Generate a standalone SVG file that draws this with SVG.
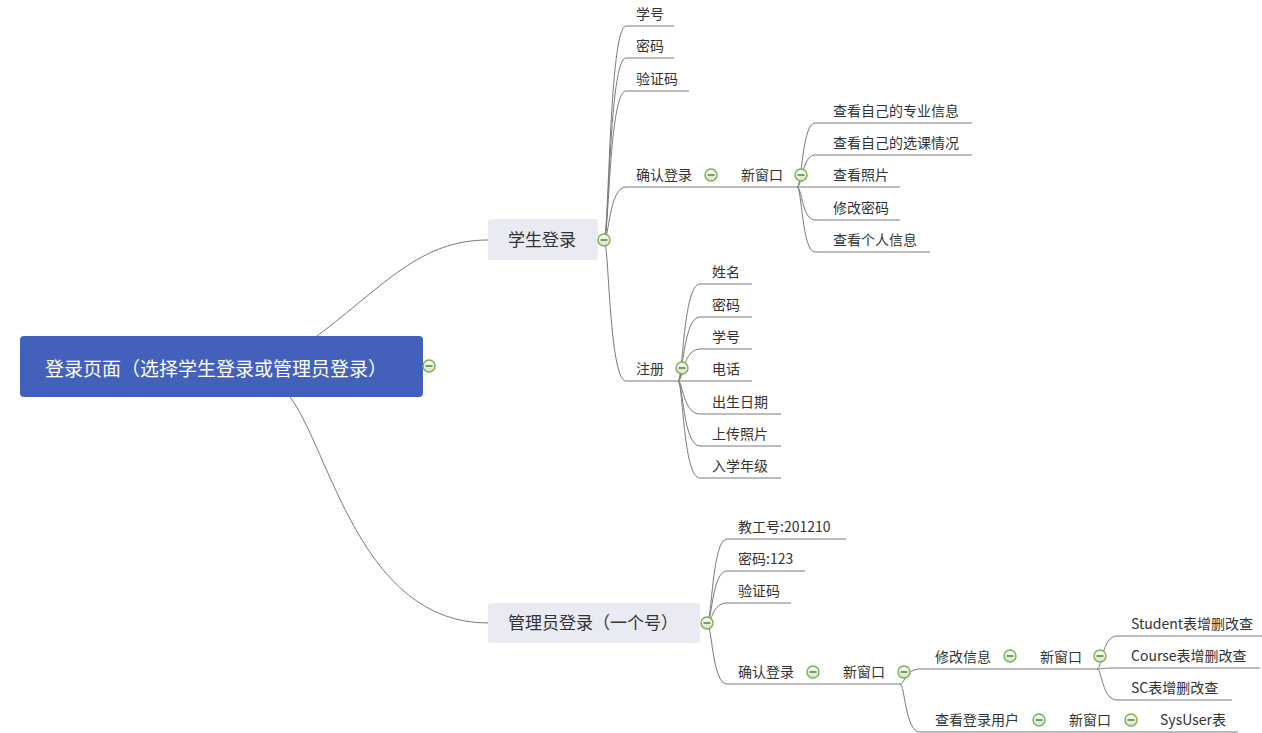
<svg xmlns="http://www.w3.org/2000/svg" xmlns:xlink="http://www.w3.org/1999/xlink" width="1262" height="733" viewBox="0 0 1262 733">
<style>
.ln{fill:none;stroke:#7a7a7a;stroke-width:1}
.t{font-family:"Noto Sans CJK SC","Microsoft YaHei",sans-serif;font-size:14px;fill:#333}
.big{font-family:"Noto Sans CJK SC","Microsoft YaHei",sans-serif;font-size:17px;fill:#333}
.root{font-family:"Noto Sans CJK SC","Microsoft YaHei",sans-serif;font-size:19px;fill:#fff}
</style>
<defs>
<linearGradient id="ig" x1="0" y1="0" x2="0" y2="1">
<stop offset="0" stop-color="#ffffff"/>
<stop offset="1" stop-color="#d9dcd6"/>
</linearGradient>
<g id="mi">
<circle r="6" fill="url(#ig)" stroke="#72b83f" stroke-width="1.4"/>
<line x1="-3.5" y1="0" x2="3.5" y2="0" stroke="#3f6e2a" stroke-width="1.3"/>
</g>
</defs>
<rect width="1262" height="733" fill="#fff"/>
<g id="connectors">
<path class="ln" d="M317 336 C385 285 420 240 488 240"/>
<path class="ln" d="M290 397 C330 450 360 623 488 623"/>
<path class="ln" d="M604 240 C609 240 609 26 626 26 L674 26"/>
<path class="ln" d="M604 240 C609 240 609 58 626 58 L674 58"/>
<path class="ln" d="M604 240 C609 240 609 91 626 91 L689 91"/>
<path class="ln" d="M604 240 C609 240 609 187 626 187 L900 187"/>
<path class="ln" d="M604 240 C609 240 609 381 626 381 L678 381"/>
<path class="ln" d="M797 187 C802 187 802 123 815 123 L972 123"/>
<path class="ln" d="M797 187 C802 187 802 155 815 155 L972 155"/>
<path class="ln" d="M797 187 C802 187 802 220 815 220 L900 220"/>
<path class="ln" d="M797 187 C802 187 802 252 815 252 L930 252"/>
<path class="ln" d="M678 381 C683 381 683 284 700 284 L752 284"/>
<path class="ln" d="M678 381 C683 381 683 317 700 317 L752 317"/>
<path class="ln" d="M678 381 C683 381 683 349 700 349 L752 349"/>
<path class="ln" d="M678 381 L752 381"/>
<path class="ln" d="M678 381 C683 381 683 414 700 414 L781 414"/>
<path class="ln" d="M678 381 C683 381 683 446 700 446 L781 446"/>
<path class="ln" d="M678 381 C683 381 683 478 700 478 L781 478"/>
<path class="ln" d="M707 623 C712 623 712 539 727 539 L846 539"/>
<path class="ln" d="M707 623 C712 623 712 571 727 571 L805 571"/>
<path class="ln" d="M707 623 C712 623 712 603 727 603 L791 603"/>
<path class="ln" d="M707 623 C712 623 712 684 727 684 L900 684"/>
<path class="ln" d="M900 684 C905 684 905 669 920 669 L1097 669"/>
<path class="ln" d="M900 684 C905 684 905 732 920 732 L1238 732"/>
<path class="ln" d="M1097 669 C1102 669 1102 636 1117 636 L1262 636"/>
<path class="ln" d="M1097 669 C1102 669 1102 668 1117 668 L1260 668"/>
<path class="ln" d="M1097 669 C1102 669 1102 700 1117 700 L1232 700"/>
</g>
<g id="root">
<rect x="20" y="336" width="403" height="61" rx="4" fill="#4361ba"/>
<text class="root" x="45" y="376">登录页面（选择学生登录或管理员登录）</text>
<use href="#mi" x="429" y="366"/>
</g>
<g id="student">
<rect x="488" y="219" width="110" height="41" rx="3" fill="#e9eaf2"/>
<text class="big" x="508" y="246">学生登录</text>
<use href="#mi" x="604" y="240"/>
</g>
<g id="s-xuehao"><text class="t" x="636" y="19">学号</text></g>
<g id="s-mima"><text class="t" x="636" y="51">密码</text></g>
<g id="s-yzm"><text class="t" x="636" y="84">验证码</text></g>
<g id="s-confirm"><text class="t" x="636" y="180">确认登录</text><use href="#mi" x="711" y="175"/></g>
<g id="s-newwin"><text class="t" x="741" y="180">新窗口</text><use href="#mi" x="801" y="175"/></g>
<g id="s-w1"><text class="t" x="833" y="116">查看自己的专业信息</text></g>
<g id="s-w2"><text class="t" x="833" y="148">查看自己的选课情况</text></g>
<g id="s-w3"><text class="t" x="833" y="180">查看照片</text></g>
<g id="s-w4"><text class="t" x="833" y="213">修改密码</text></g>
<g id="s-w5"><text class="t" x="833" y="245">查看个人信息</text></g>
<g id="s-register"><text class="t" x="636" y="374">注册</text><use href="#mi" x="682" y="368"/></g>
<g id="r1"><text class="t" x="712" y="277">姓名</text></g>
<g id="r2"><text class="t" x="712" y="310">密码</text></g>
<g id="r3"><text class="t" x="712" y="342">学号</text></g>
<g id="r4"><text class="t" x="712" y="374">电话</text></g>
<g id="r5"><text class="t" x="712" y="407">出生日期</text></g>
<g id="r6"><text class="t" x="712" y="439">上传照片</text></g>
<g id="r7"><text class="t" x="712" y="471">入学年级</text></g>
<g id="admin">
<rect x="488" y="603" width="212" height="40" rx="3" fill="#e9eaf2"/>
<text class="big" x="508" y="629">管理员登录（一个号）</text>
<use href="#mi" x="707" y="623"/>
</g>
<g id="a-id"><text class="t" x="738" y="532">教工号:201210</text></g>
<g id="a-pw"><text class="t" x="738" y="564">密码:123</text></g>
<g id="a-yzm"><text class="t" x="738" y="596">验证码</text></g>
<g id="a-confirm"><text class="t" x="738" y="677">确认登录</text><use href="#mi" x="813" y="672"/></g>
<g id="a-newwin"><text class="t" x="843" y="677">新窗口</text><use href="#mi" x="904" y="672"/></g>
<g id="a-modify"><text class="t" x="935" y="662">修改信息</text><use href="#mi" x="1010" y="656"/></g>
<g id="a-newwin2"><text class="t" x="1040" y="662">新窗口</text><use href="#mi" x="1100" y="656"/></g>
<g id="a-student"><text class="t" x="1131" y="629">Student表增删改查</text></g>
<g id="a-course"><text class="t" x="1131" y="661">Course表增删改查</text></g>
<g id="a-sc"><text class="t" x="1131" y="693">SC表增删改查</text></g>
<g id="a-users"><text class="t" x="935" y="725">查看登录用户</text><use href="#mi" x="1039" y="720"/></g>
<g id="a-newwin3"><text class="t" x="1069" y="725">新窗口</text><use href="#mi" x="1131" y="720"/></g>
<g id="a-sysuser"><text class="t" x="1160" y="725">SysUser表</text></g>
</svg>
